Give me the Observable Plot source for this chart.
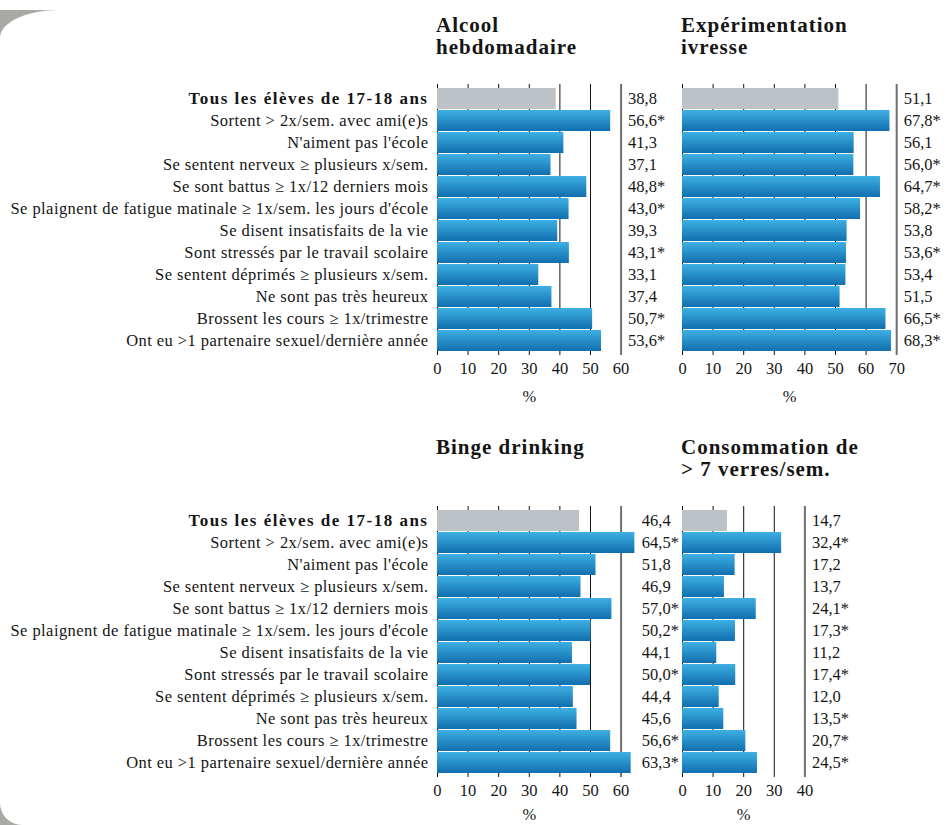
<!DOCTYPE html>
<html><head><meta charset="utf-8">
<script src="https://cdn.jsdelivr.net/npm/d3@7"></script>
<script src="https://cdn.jsdelivr.net/npm/@observablehq/plot@0.6"></script>
<style>
body{margin:0;width:947px;height:825px;overflow:hidden;background:#fff;position:relative;font-family:"Liberation Serif",serif;color:#151515;}
.deco{position:absolute;left:0;top:10px;width:90px;height:815px;background:#a8a8a4;}
.sheet{position:absolute;left:0;top:10px;width:947px;height:815px;background:#fff;border-top-left-radius:58px 28px;border-bottom-left-radius:22px;}
.panel{position:absolute;}
.title{position:absolute;font-weight:bold;font-size:21px;line-height:22px;color:#151515;white-space:nowrap;letter-spacing:1px;}
</style></head><body>
<div class="deco"></div><div class="sheet"></div>
<div id="root"></div>
<script>
const categories = [
  "Tous les élèves de 17-18 ans",
  "Sortent > 2x/sem. avec ami(e)s",
  "N'aiment pas l'école",
  "Se sentent nerveux ≥ plusieurs x/sem.",
  "Se sont battus ≥ 1x/12 derniers mois",
  "Se plaignent de fatigue matinale ≥ 1x/sem. les jours d'école",
  "Se disent insatisfaits de la vie",
  "Sont stressés par le travail scolaire",
  "Se sentent déprimés ≥ plusieurs x/sem.",
  "Ne sont pas très heureux",
  "Brossent les cours ≥ 1x/trimestre",
  "Ont eu >1 partenaire sexuel/dernière année"
];
const alcoolValues  = [38.8, 56.6, 41.3, 37.1, 48.8, 43.0, 39.3, 43.1, 33.1, 37.4, 50.7, 53.6];
const alcoolSig     = [0, 1, 0, 0, 1, 1, 0, 1, 0, 0, 1, 1];
const ivresseValues = [51.1, 67.8, 56.1, 56.0, 64.7, 58.2, 53.8, 53.6, 53.4, 51.5, 66.5, 68.3];
const ivresseSig    = [0, 1, 0, 1, 1, 1, 0, 1, 0, 0, 1, 1];
const bingeValues   = [46.4, 64.5, 51.8, 46.9, 57.0, 50.2, 44.1, 50.0, 44.4, 45.6, 56.6, 63.3];
const bingeSig      = [0, 1, 0, 0, 1, 1, 0, 1, 0, 0, 1, 1];
const consoValues   = [14.7, 32.4, 17.2, 13.7, 24.1, 17.3, 11.2, 17.4, 12.0, 13.5, 20.7, 24.5];
const consoSig      = [0, 1, 0, 0, 1, 1, 0, 1, 0, 1, 1, 1];
const ticksAlcool  = [0, 10, 20, 30, 40, 50, 60];
const ticksIvresse = [0, 10, 20, 30, 40, 50, 60, 70];
const ticksBinge   = [0, 10, 20, 30, 40, 50, 60];
const ticksConso   = [0, 10, 20, 30, 40];
const titles = [["Alcool", "hebdomadaire"], ["Expérimentation", "ivresse"], ["Binge drinking"], ["Consommation de", "> 7 verres/sem."]];

const PX10 = 30.6;
const root = document.getElementById("root");

function gradient(id) {
  return () => {
    const defs = d3.create("svg:defs");
    const g = defs.append("linearGradient").attr("id", id)
      .attr("x1", 0).attr("y1", 0).attr("x2", 0).attr("y2", 1);
    g.append("stop").attr("offset", "0%").attr("stop-color", "#3eb0e3");
    g.append("stop").attr("offset", "100%").attr("stop-color", "#116eae");
    return defs.node();
  };
}

function panel({values, sig, ticks, left, top, marginLeft, labels, id, title, labelOffset}) {
  const data = categories.map((c, i) => ({cat: c, v: values[i], s: sig[i]}));
  const xmax = ticks[ticks.length - 1];
  const marginRight = 50;
  const width = marginLeft + (xmax / 10) * PX10 + marginRight;
  const labelX = Math.max(xmax, d3.max(values));
  const fmt = d => d.v.toFixed(1).replace(".", ",") + (d.s ? "*" : "");
  const marks = [
    gradient(id),
    Plot.ruleX(ticks.slice(0, -1), {stroke: "#111", strokeWidth: 1}),
    Plot.ruleX([xmax], {stroke: "#6f6f6f", strokeWidth: 2}),
    Plot.barX(data.slice(0, 1), {x: "v", y: "cat", fill: "#bcc2c5"}),
    Plot.barX(data.slice(1), {x: "v", y: "cat", fill: `url(#${id})`}),
    Plot.text(data, {x: labelX, y: "cat", text: fmt, textAnchor: "start", dx: 7}),
    Plot.axisX({ticks, tickSize: 0, tickPadding: 7, label: "%", labelAnchor: "center", labelArrow: "none", labelOffset})
  ];
  if (labels) {
    marks.push(Plot.text(data.slice(0, 1), {x: 0, y: "cat", text: "cat", textAnchor: "end", dx: -9, fontWeight: "bold", fontSize: 17}));
    marks.push(Plot.text(data.slice(1), {x: 0, y: "cat", text: "cat", textAnchor: "end", dx: -9}));
  }
  const plot = Plot.plot({
    width, height: 84 + 271 + 60,
    marginLeft, marginRight, marginTop: 84, marginBottom: 60,
    style: {fontFamily: "Liberation Serif", fontSize: "16.5px", color: "#151515", background: "transparent", overflow: "visible"},
    x: {domain: [0, xmax]},
    y: {domain: categories, padding: 0.03, axis: null},
    marks
  });
  d3.select(plot).selectAll("text")
    .filter(function () { return categories.includes(this.textContent); })
    .style("letter-spacing", function () { return this.textContent === categories[0] ? "1.5px" : "0.45px"; });
  const wrap = document.createElement("div");
  wrap.className = "panel";
  wrap.style.left = left + "px";
  wrap.style.top = top + "px";
  wrap.appendChild(plot);
  root.appendChild(wrap);
  const t = document.createElement("div");
  t.className = "title";
  t.style.left = (left + marginLeft - 1) + "px";
  t.style.top = (top + 14) + "px";
  t.innerHTML = title.join("<br>");
  root.appendChild(t);
}

panel({values: alcoolValues, sig: alcoolSig, ticks: ticksAlcool, left: 0, top: 0, marginLeft: 437, labels: true, id: "g1", title: titles[0], labelOffset: 47});
panel({values: ivresseValues, sig: ivresseSig, ticks: ticksIvresse, left: 670, top: 0, marginLeft: 12, labels: false, id: "g2", title: titles[1], labelOffset: 47});
panel({values: bingeValues, sig: bingeSig, ticks: ticksBinge, left: 0, top: 422, marginLeft: 437, labels: true, id: "g3", title: titles[2], labelOffset: 43});
panel({values: consoValues, sig: consoSig, ticks: ticksConso, left: 670, top: 422, marginLeft: 12, labels: false, id: "g4", title: titles[3], labelOffset: 43});
</script>
</body></html>
